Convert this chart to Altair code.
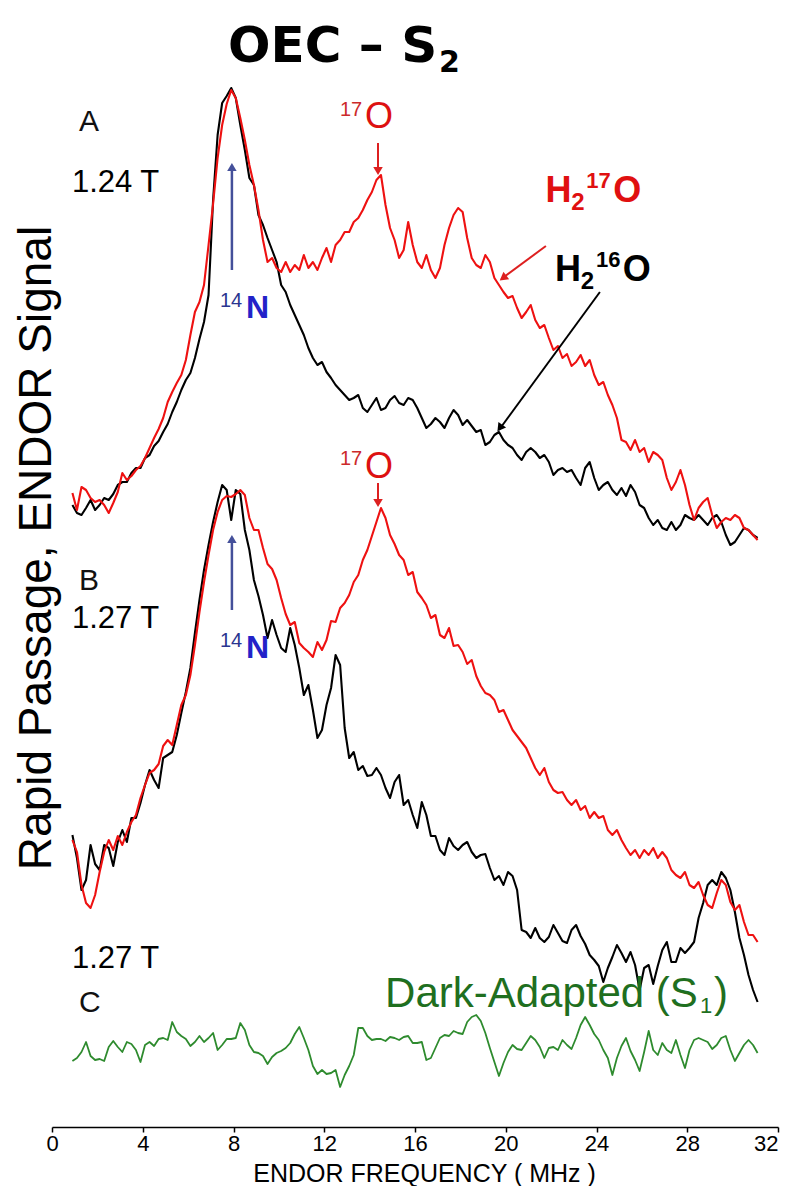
import altair as alt
import pandas as pd

# ---------------- data ----------------
FREQ_MHZ = [
    0.9, 1.1, 1.3, 1.5, 1.7, 1.9, 2.1, 2.3, 2.5, 2.7,
    2.9, 3.1, 3.3, 3.5, 3.7, 3.9, 4.1, 4.3, 4.5, 4.7,
    4.9, 5.1, 5.3, 5.5, 5.7, 5.9, 6.1, 6.3, 6.5, 6.7,
    6.9, 7.1, 7.3, 7.5, 7.7, 7.9, 8.1, 8.3, 8.5, 8.7,
    8.9, 9.1, 9.3, 9.5, 9.7, 9.9, 10.1, 10.3, 10.5, 10.7,
    10.9, 11.1, 11.3, 11.5, 11.7, 11.9, 12.1, 12.3, 12.5, 12.7,
    12.9, 13.1, 13.3, 13.5, 13.7, 13.9, 14.1, 14.3, 14.5, 14.7,
    14.9, 15.1, 15.3, 15.5, 15.7, 15.9, 16.1, 16.3, 16.5, 16.7,
    16.9, 17.1, 17.3, 17.5, 17.7, 17.9, 18.1, 18.3, 18.5, 18.7,
    18.9, 19.1, 19.3, 19.5, 19.7, 19.9, 20.1, 20.3, 20.5, 20.7,
    20.9, 21.1, 21.3, 21.5, 21.7, 21.9, 22.1, 22.3, 22.5, 22.7,
    22.9, 23.1, 23.3, 23.5, 23.7, 23.9, 24.1, 24.3, 24.5, 24.7,
    24.9, 25.1, 25.3, 25.5, 25.7, 25.9, 26.1, 26.3, 26.5, 26.7,
    26.9, 27.1, 27.3, 27.5, 27.7, 27.9, 28.1, 28.3, 28.5, 28.7,
    28.9, 29.1, 29.3, 29.5, 29.7, 29.9, 30.1, 30.3, 30.5, 30.7,
    30.9, 31.1,
]

# panel A, 1.24 T, H2(17)O (red)
A_H217O = [
    70.7, 69.0, 71.3, 71.0, 70.2, 69.8, 70.0, 69.5, 68.7, 69.7,
    70.8, 72.7, 72.0, 72.4, 73.0, 73.4, 74.2, 75.2, 76.2, 77.1,
    78.2, 79.8, 80.8, 81.7, 82.5, 84.0, 86.5, 88.8, 89.8, 91.5,
    95.5, 99.6, 104.2, 107.5, 109.6, 111.0, 110.2, 108.2, 106.0, 103.5,
    101.5, 99.0, 96.0, 93.8, 94.2, 93.2, 92.8, 93.8, 92.8, 93.5,
    93.0, 94.5, 93.2, 93.8, 93.0, 94.2, 95.2, 93.8, 95.5, 96.0,
    96.8, 96.8, 97.8, 98.2, 99.0, 100.0, 100.8, 102.0, 102.5, 99.5,
    97.2, 96.0, 94.2, 95.0, 97.8, 95.5, 93.8, 93.2, 94.5, 93.0,
    92.2, 93.2, 95.5, 97.2, 98.5, 99.2, 98.8, 96.2, 94.2, 93.5,
    93.2, 94.5, 93.8, 92.2, 91.5, 90.8, 90.2, 90.4, 89.2, 88.2,
    88.8, 89.5, 88.0, 87.2, 87.5, 86.2, 85.0, 85.4, 84.2, 84.6,
    83.4, 83.8, 84.5, 83.4, 84.0, 82.5, 81.5, 81.8, 80.5, 79.5,
    78.2, 76.0, 75.8, 75.0, 76.0, 74.8, 75.2, 73.8, 74.8, 74.5,
    74.0, 72.2, 71.0, 71.8, 73.0, 71.5, 69.5, 68.0, 69.2, 69.8,
    70.2, 68.5, 67.2, 67.8, 68.2, 68.0, 68.5, 68.2, 67.2, 67.0,
    66.5, 66.0,
]

# panel A, 1.24 T, H2(16)O (black)
A_H216O = [
    69.5, 68.7, 68.5, 69.2, 70.0, 69.0, 69.5, 70.2, 70.0, 70.6,
    71.5, 71.8, 71.8, 72.7, 73.2, 73.2, 74.2, 74.5, 75.4, 75.9,
    76.8, 77.6, 78.8, 79.8, 81.0, 82.0, 82.7, 84.2, 86.1, 87.8,
    90.5, 100.0, 106.5, 109.7, 110.4, 111.2, 110.2, 107.5, 105.0, 102.2,
    101.5, 98.5, 97.5, 96.2, 95.0, 93.8, 91.5, 90.8, 89.5, 88.5,
    87.5, 86.5, 85.2, 84.2, 83.5, 83.8, 82.8, 82.2, 81.5, 81.0,
    80.5, 80.0, 80.2, 80.5, 79.2, 78.8, 79.5, 80.2, 79.0, 79.2,
    80.0, 80.4, 79.7, 79.5, 80.2, 80.0, 79.2, 78.2, 77.2, 77.6,
    78.2, 77.8, 77.2, 78.2, 79.0, 78.5, 77.5, 78.0, 77.4, 76.8,
    77.0, 75.5, 75.8, 76.5, 76.8, 76.0, 75.5, 75.2, 74.5, 74.0,
    74.8, 75.2, 74.8, 74.2, 74.5, 73.8, 72.5, 73.0, 73.2, 72.8,
    73.0, 72.2, 71.5, 73.2, 73.8, 72.2, 71.0, 71.5, 71.8, 71.0,
    70.5, 71.2, 70.4, 71.5, 70.8, 69.5, 69.2, 68.2, 67.5, 68.0,
    67.2, 67.0, 67.8, 67.0, 67.5, 68.5, 68.2, 68.0, 68.5, 68.0,
    67.5, 68.2, 68.5, 67.8, 66.5, 65.5, 65.8, 66.5, 67.2, 67.0,
    66.5, 66.2,
]

# panel B, 1.27 T, H2(17)O (red)
B_H217O = [
    36.0, 34.8, 31.5, 29.7, 29.2, 30.5, 32.8, 34.8, 36.0, 35.0,
    36.4, 35.5, 36.8, 37.8, 38.5, 40.2, 41.5, 42.7, 43.0, 43.6,
    45.4, 46.0, 45.5, 47.5, 49.5, 50.5, 52.5, 55.5, 58.8, 61.8,
    64.5, 67.0, 68.8, 70.0, 70.4, 70.3, 70.6, 71.0, 70.5, 68.2,
    67.0, 67.0, 65.2, 63.6, 63.1, 62.0, 60.2, 58.6, 57.5, 57.8,
    55.7, 55.2, 54.8, 54.3, 55.8, 55.0, 56.0, 57.9, 57.8, 59.2,
    59.7, 60.5, 61.8, 62.5, 64.0, 65.0, 66.4, 67.8, 69.2, 68.2,
    66.5, 65.6, 64.5, 64.0, 62.5, 62.8, 60.8, 60.2, 59.5, 58.2,
    58.5, 56.5, 56.2, 57.2, 55.4, 55.5, 54.8, 53.6, 54.0, 52.4,
    51.4, 50.7, 50.5, 50.0, 48.8, 49.0, 48.0, 47.0, 46.4, 45.8,
    45.2, 44.2, 43.2, 42.5, 43.2, 41.8, 41.0, 40.7, 40.8, 40.0,
    39.5, 40.0, 39.0, 39.4, 38.2, 38.8, 38.2, 38.4, 37.0, 36.5,
    37.0, 36.0, 35.2, 34.5, 35.0, 34.2, 35.0, 34.5, 35.2, 34.2,
    34.8, 34.2, 33.0, 32.5, 32.2, 32.8, 31.5, 31.2, 31.8, 30.5,
    29.5, 29.2, 30.7, 32.0, 31.5, 29.8, 29.0, 29.5, 27.8, 26.5,
    26.5, 25.8,
]

# panel B, 1.27 T, H2(16)O (black)
B_H216O = [
    36.5, 34.2, 31.0, 32.0, 35.5, 33.6, 33.0, 35.5, 35.2, 33.4,
    35.8, 37.0, 35.8, 38.2, 38.2, 39.7, 41.5, 43.0, 42.0, 41.2,
    44.2, 44.5, 44.8, 46.5, 48.7, 50.8, 53.2, 56.7, 60.0, 63.0,
    65.5, 67.8, 69.8, 71.5, 71.0, 68.0, 71.0, 70.6, 67.0, 65.0,
    62.0, 60.4, 58.5, 56.2, 58.0, 56.5, 55.2, 54.8, 57.2, 55.5,
    53.2, 50.5, 51.5, 49.0, 46.2, 47.0, 49.5, 51.2, 54.5, 53.5,
    47.2, 44.2, 44.8, 43.0, 43.4, 42.4, 42.5, 43.2, 42.5, 41.2,
    40.2, 41.8, 42.5, 39.5, 40.0, 38.5, 37.2, 39.8, 38.5, 36.4,
    36.4, 35.0, 34.5, 36.2, 35.4, 35.0, 35.5, 35.8, 34.8, 34.2,
    34.5, 34.6, 33.2, 32.0, 32.4, 31.5, 32.8, 32.4, 31.0, 27.0,
    26.8, 26.2, 27.2, 26.2, 25.8, 26.3, 27.5, 26.7, 25.9, 25.7,
    27.0, 27.5, 26.4, 25.6, 24.5, 24.0, 23.4, 21.8, 23.2, 24.3,
    25.5, 24.7, 23.8, 24.8, 23.5, 21.0, 23.2, 23.5, 21.6, 23.4,
    25.0, 25.8, 23.8, 23.8, 25.2, 24.7, 25.2, 25.8, 28.2, 29.7,
    31.5, 32.0, 31.5, 32.8, 32.2, 31.0, 28.8, 26.2, 24.5, 22.5,
    21.0, 19.8,
]

# panel C, 1.27 T, dark-adapted S1 (green)
C_DARK_S1 = [
    13.9, 14.2, 14.8, 15.8, 14.4, 14.0, 14.1, 13.9, 15.3, 15.9,
    15.3, 14.8, 15.8, 15.6, 15.0, 13.8, 15.5, 15.8, 15.4, 16.1,
    16.2, 16.0, 17.8, 16.8, 16.4, 16.1, 15.4, 15.8, 16.4, 15.8,
    16.2, 16.7, 15.0, 15.5, 16.1, 16.1, 16.2, 17.7, 17.0, 15.5,
    14.8, 14.7, 14.4, 13.6, 14.3, 14.7, 14.9, 15.2, 15.7, 16.6,
    17.3, 16.2, 15.0, 13.4, 12.6, 13.0, 12.6, 12.7, 13.0, 11.3,
    12.5, 13.4, 14.5, 17.2, 17.2, 16.4, 16.0, 16.1, 16.1, 15.9,
    16.3, 16.2, 16.0, 16.3, 16.4, 15.7, 15.7, 15.8, 14.0, 14.2,
    15.2, 16.2, 16.5, 16.4, 16.9, 16.7, 16.6, 17.8, 18.3, 18.5,
    17.9, 16.7, 15.2, 13.8, 12.4, 13.7, 14.8, 15.5, 15.1, 15.0,
    15.7, 16.4, 16.0, 15.3, 14.2, 15.2, 15.3, 15.0, 16.0, 15.5,
    15.1, 16.2, 17.5, 18.3, 17.5, 16.6, 16.0, 15.0, 14.2, 12.5,
    14.2, 15.4, 16.2, 14.9, 14.0, 12.9, 14.8, 16.9, 15.0, 14.5,
    15.7, 15.0, 14.7, 16.0, 14.5, 13.2, 15.0, 16.0, 16.2, 16.0,
    15.8, 15.1, 15.5, 16.2, 16.4, 15.0, 13.9, 14.7, 15.5, 16.0,
    15.5, 14.7,
]

X_TICKS = [0, 4, 8, 12, 16, 20, 24, 28, 32]

# annotation texts: label, x (MHz), y (signal units), font size, colour
TITLE_TEXT = [
    ("OEC \u2013 S", 7.76, 113.8, 50, "#000000"),
    ("2", 17.06, 112.8, 30, "#000000"),
]
TEXT_BOLD = [
    ("N", 8.55, 88.2, 32, "#2222c8"),
    ("N", 8.55, 54.2, 32, "#2222c8"),
    ("H", 21.75, 99.8, 36, "#e01010"),
    ("2", 22.89, 99.0, 24, "#e01010"),
    ("17", 23.55, 101.2, 22, "#e01010"),
    ("O", 24.74, 99.8, 36, "#e01010"),
    ("H", 22.17, 91.9, 36, "#000000"),
    ("2", 23.31, 91.1, 24, "#000000"),
    ("16", 23.98, 93.3, 22, "#000000"),
    ("O", 25.16, 91.9, 36, "#000000"),
]
TEXT_NORMAL = [
    ("A", 1.19, 106.9, 30, "#111111"),
    ("1.24 T", 0.88, 100.8, 31, "#000000"),
    ("17", 12.69, 108.4, 20, "#cc2a2a"),
    ("O", 13.80, 107.2, 36, "#dd1111"),
    ("14", 7.40, 89.3, 20, "#2a3590"),
    ("B", 1.19, 61.0, 30, "#111111"),
    ("1.27 T", 0.88, 57.2, 31, "#000000"),
    ("17", 12.69, 73.5, 20, "#cc2a2a"),
    ("O", 13.80, 72.2, 36, "#dd1111"),
    ("14", 7.40, 55.3, 20, "#2a3590"),
    ("1.27 T", 0.88, 23.2, 31, "#000000"),
    ("C", 1.19, 18.8, 30, "#111111"),
    ("Dark-Adapted (S", 14.68, 19.3, 42, "#1f6f1f"),
    ("1", 28.56, 18.7, 22, "#1f6f1f"),
    (")", 29.18, 19.3, 42, "#1f6f1f"),
]
Y_TITLE = [("Rapid Passage, ENDOR Signal", -0.04, 65.2)]

# arrows: x, y (tail) -> x2, y2 (tip), colour, width
ARROWS = [
    (14.37, 105.7, 14.37, 103.0, "#dd2020", 2.0),
    (14.37, 71.7, 14.37, 69.8, "#dd2020", 2.0),
    (7.93, 93.0, 7.93, 103.2, "#44509a", 2.5),
    (7.93, 59.0, 7.93, 66.0, "#44509a", 2.5),
    (21.77, 95.4, 19.80, 92.1, "#dd2020", 2.0),
    (24.15, 90.8, 19.70, 77.0, "#000000", 2.0),
]
# arrow heads: x, y, angle (deg, clockwise from up), colour
HEADS = [
    (14.37, 102.9, 180, "#dd2020"),
    (14.37, 69.7, 180, "#dd2020"),
    (7.93, 103.3, 0, "#44509a"),
    (7.93, 66.1, 0, "#44509a"),
    (19.88, 92.2, 233, "#dd2020"),
    (19.74, 77.2, 216, "#000000"),
]

# ---------------- chart ----------------
FONT = "Liberation Sans"

x_scale = alt.Scale(domain=[0, 32], nice=False, zero=False)
y_scale = alt.Scale(domain=[7.3, 120], nice=False, zero=False)
x_axis = alt.Axis(
    values=X_TICKS, format="d", title="ENDOR FREQUENCY ( MHz )", grid=False,
    labelFont=FONT, labelFontSize=22, labelColor="#000000", labelPadding=1,
    labelAlign={"condition": {"test": "datum.value == 32", "value": "right"}, "value": "center"},
    titleFont=FONT, titleFontSize=25, titleFontWeight="normal", titleColor="#000000",
    titleBaseline="alphabetic", titleY=54, titleX=372,
    tickSize=5, tickWidth=1.5, tickColor="#000000",
    domainWidth=1.5, domainColor="#000000",
)


def X(field):
    return alt.X(f"{field}:Q", scale=x_scale, axis=x_axis)


def Y(field):
    return alt.Y(f"{field}:Q", scale=y_scale, axis=None)


def trace_df(values):
    return pd.DataFrame({"freq": [f for f, _ in zip(FREQ_MHZ, values)],
                         "signal": [v for _, v in zip(FREQ_MHZ, values)]})


def line(values, color, width=2.1):
    return alt.Chart(trace_df(values)).mark_line(
        color=color, strokeWidth=width, strokeJoin="round"
    ).encode(x=X("freq"), y=Y("signal"))


def text_layer(rows, weight, font=FONT):
    df = pd.DataFrame(rows, columns=["label", "x", "y", "size", "color"])
    return alt.Chart(df).mark_text(
        font=font, fontWeight=weight, align="left", baseline="alphabetic"
    ).encode(
        x=X("x"), y=Y("y"), text="label:N",
        size=alt.Size("size:Q", scale=None),
        color=alt.Color("color:N", scale=None),
    )


arrows_df = pd.DataFrame(ARROWS, columns=["x", "y", "x2", "y2", "color", "width"])
heads_df = pd.DataFrame(HEADS, columns=["x", "y", "angle", "color"])
ytitle_df = pd.DataFrame(Y_TITLE, columns=["label", "x", "y"])

arrow_layer = alt.Chart(arrows_df).mark_rule().encode(
    x=X("x"), y=Y("y"), x2="x2:Q", y2="y2:Q",
    color=alt.Color("color:N", scale=None),
    strokeWidth=alt.StrokeWidth("width:Q", scale=None),
)
head_layer = alt.Chart(heads_df).mark_point(
    shape="triangle-up", filled=True, opacity=1, size=90
).encode(
    x=X("x"), y=Y("y"),
    angle=alt.Angle("angle:Q", scale=None),
    color=alt.Color("color:N", scale=None),
)
ytitle_layer = alt.Chart(ytitle_df).mark_text(
    font=FONT, fontSize=46, angle=270, align="center", baseline="alphabetic", color="#000000"
).encode(x=X("x"), y=Y("y"), text="label:N")

chart = alt.layer(
    line(C_DARK_S1, "#2e8b2e", 1.8),
    line(B_H216O, "#000000"),
    line(B_H217O, "#ee1111"),
    line(A_H216O, "#000000"),
    line(A_H217O, "#ee1111"),
    arrow_layer,
    head_layer,
    text_layer(TITLE_TEXT, "bold", "DejaVu Sans"),
    text_layer(TEXT_BOLD, "bold"),
    text_layer(TEXT_NORMAL, "normal"),
    ytitle_layer,
).properties(
    width=726,
    height=1127,
    padding={"left": 52, "right": 9, "top": 0, "bottom": 59},
    autosize=alt.AutoSizeParams(type="none"),
    background="white",
).configure_view(stroke=None)

chart.save("out.html", embed_options={"renderer": "svg", "actions": False})
